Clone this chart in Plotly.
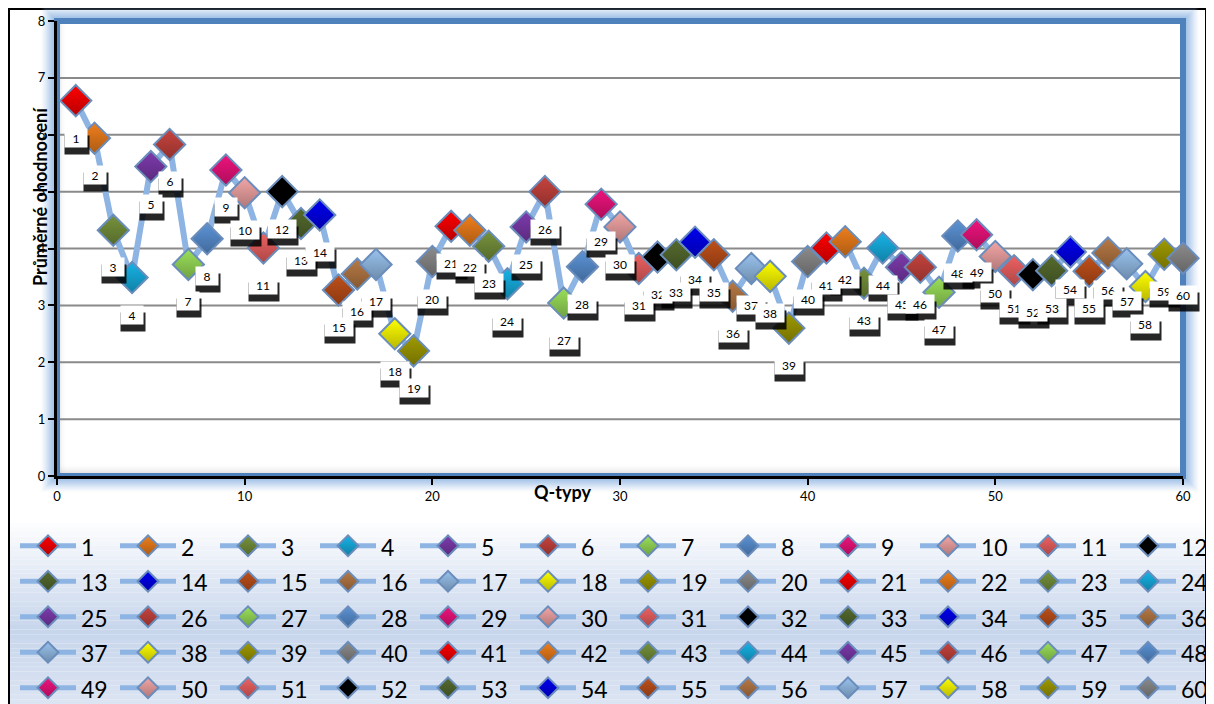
import plotly.graph_objects as go

# ---------------- data ----------------
q_types = list(range(1, 61))
ratings = [6.60, 5.94, 4.32, 3.49, 5.44, 5.83, 3.72, 4.17, 5.38, 4.98,
           4.01, 5.00, 4.44, 4.59, 3.27, 3.55, 3.72, 2.50, 2.20, 3.77,
           4.39, 4.32, 4.04, 3.38, 4.38, 5.00, 3.04, 3.68, 4.78, 4.38,
           3.65, 3.85, 3.89, 4.11, 3.89, 3.16, 3.65, 3.51, 2.60, 3.77,
           4.01, 4.12, 3.39, 4.01, 3.67, 3.67, 3.23, 4.22, 4.24, 3.86,
           3.61, 3.54, 3.61, 3.94, 3.60, 3.92, 3.73, 3.33, 3.90, 3.83]
point_labels = [str(q) for q in q_types]
y_ticks = list(range(0, 9))
x_ticks = list(range(0, 61, 10))
x_title = "Q-typy"
y_title = "Průměrné ohodnocení"

# ---------------- styles ----------------
base_colors = ['#FF0000', '#F07F1C', '#77933C', '#17B3E6', '#7E3BAE',
               '#C8443E', '#9BE05A', '#5B93D6', '#F0137D', '#F4A6A6',
               '#F06262', '#000000', '#566B2E', '#0000F0', '#C0501A',
               '#B87A45', '#99C3EE', '#FFFF00', '#A09B00', '#8C8C8C']
LINE_BLUE = '#8DB4E2'
FONT = 'Lato'

OFF = 8                       # page body margin of the rendered html
W, H = 1214 - OFF, 704 - OFF
# screen-pixel layout targets (converted to figure pixels below)
PL, PR, PT, PB = 57 - OFF, 1183 - OFF, 21 - OFF, 476 - OFF
PAPER_R = 1210 - OFF
MR = W - PAPER_R


def sx(px):
    return (px - OFF - PL) / (PAPER_R - PL)


def sy(py):
    return (PB - (py - OFF)) / (PB - PT)


def darken(hexc, f=0.72):
    h = hexc.lstrip('#')
    r, g, b = (int(h[i:i + 2], 16) for i in (0, 2, 4))
    return 'rgb(%d,%d,%d)' % (r * f, g * f, b * f)


fig = go.Figure()

# connecting line
fig.add_trace(go.Scatter(x=q_types, y=ratings, mode='lines',
                         line=dict(color=LINE_BLUE, width=6),
                         showlegend=False, hoverinfo='skip'))

# one trace per Q-type (legend entries)
for i, (q, v, name) in enumerate(zip(q_types, ratings, point_labels)):
    c = base_colors[i % len(base_colors)]
    fig.add_trace(go.Scatter(
        x=[q], y=[v], mode='lines+markers',
        name="<span style='font-size:23px'>%s</span>" % name,
        line=dict(color=LINE_BLUE, width=5),
        marker=dict(symbol='diamond', size=24, color=c,
                    gradient=dict(type='vertical', color=darken(c)),
                    line=dict(color='#6A8DBC', width=2)),
        cliponaxis=False))

X_RIGHT = sx(1183)
shapes = []
# outer frame
shapes.append(dict(type='rect', xref='paper', yref='paper',
                   x0=sx(9), x1=sx(1206), y0=sy(740), y1=sy(9),
                   line=dict(color='black', width=2), layer='below'))
# legend gradient background
n_b = 40
top, bot = 518, 704
for k in range(n_b):
    y0 = top + (bot - top) * k / n_b
    y1 = top + (bot - top) * (k + 1) / n_b
    t = k / (n_b - 1)
    if t < 0.6:
        s = t / 0.6
    else:
        s = 1 - (t - 0.6) / 0.4 * 0.35
    r = int(255 - (255 - 200) * s)
    g = int(255 - (255 - 214) * s)
    b = int(255 - (255 - 236) * s)
    shapes.append(dict(type='rect', xref='paper', yref='paper',
                       x0=sx(10), x1=sx(1205), y0=sy(y1), y1=sy(y0),
                       fillcolor='rgb(%d,%d,%d)' % (r, g, b),
                       line=dict(width=0), layer='below'))
# glow around plot area
for d in range(3, 17):
    a = 0.55 * (1 - (d - 3) / 14) ** 1.5
    shapes.append(dict(type='rect', xref='paper', yref='paper',
                       x0=sx(57 - d), x1=sx(1183 + d), y0=sy(476 + d), y1=sy(21 - d),
                       line=dict(color='rgba(141,180,226,%.3f)' % a, width=2),
                       layer='below'))
# inner shadows (bottom and left)
for k in range(12):
    a = 0.45 * ((k + 1) / 12) ** 2
    shapes.append(dict(type='rect', xref='paper', yref='paper',
                       x0=0, x1=X_RIGHT, y0=sy(476 - 12 + k + 1), y1=sy(476 - 12 + k),
                       fillcolor='rgba(90,90,90,%.3f)' % (a * 0.6), line=dict(width=0),
                       layer='below'))
for k in range(9):
    a = 0.35 * ((9 - k) / 9) ** 2
    shapes.append(dict(type='rect', xref='paper', yref='paper',
                       x0=sx(57 + k), x1=sx(57 + k + 1), y0=0, y1=1,
                       fillcolor='rgba(90,90,90,%.3f)' % (a * 0.6), line=dict(width=0),
                       layer='below'))
# gridlines
for yv in y_ticks[1:-1]:
    shapes.append(dict(type='line', xref='paper', yref='y', x0=0, x1=X_RIGHT, y0=yv, y1=yv,
                       line=dict(color='#8A8A8A', width=2), layer='below'))
# blue border
shapes.append(dict(type='rect', xref='paper', yref='paper', x0=0, x1=X_RIGHT, y0=0, y1=1,
                   line=dict(color='#4F81BD', width=6), layer='below'))

annotations = []
for q, v, name in zip(q_types, ratings, point_labels):
    w = 22 if len(name) == 1 else 28
    annotations.append(dict(x=q, y=v, xref='x', yref='y', text=' ', showarrow=False,
                            font=dict(family=FONT, size=12, color='black'),
                            bgcolor='rgba(0,0,0,0.85)', width=w + 2, height=18,
                            borderpad=0, xshift=1, yshift=-44))
for q, v, name in zip(q_types, ratings, point_labels):
    w = 22 if len(name) == 1 else 28
    annotations.append(dict(x=q, y=v, xref='x', yref='y', text=name, showarrow=False,
                            font=dict(family=FONT, size=12, color='black'),
                            bgcolor='white', width=w, height=18,
                            borderpad=0, yshift=-37))
annotations.append(dict(x=sx(562), y=sy(505), xref='paper', yref='paper',
                        text='<b>%s</b>' % x_title, showarrow=False,
                        font=dict(family=FONT, size=18, color='black')))
annotations.append(dict(x=sx(27), y=sy(197), xref='paper', yref='paper',
                        text='<b>%s</b>' % y_title, showarrow=False, textangle=-90,
                        font=dict(family=FONT, size=18, color='black')))

fig.update_layout(
    width=W, height=H,
    margin=dict(l=PL, r=MR, t=PT, b=H - PB, pad=0, autoexpand=False),
    paper_bgcolor='white', plot_bgcolor='white',
    font=dict(family=FONT, color='black'),
    xaxis=dict(range=[0, 60], domain=[0, X_RIGHT], tickvals=x_ticks, ticks='outside',
               ticklen=6, tickwidth=2, tickcolor='black', showline=True,
               linecolor='black', linewidth=3, showgrid=False, zeroline=False,
               tickfont=dict(family=FONT, size=13)),
    yaxis=dict(range=[0, 8], tickvals=y_ticks, ticks='outside', ticklen=6,
               tickwidth=2, tickcolor='black', showline=True, linecolor='black',
               linewidth=3, showgrid=False, zeroline=False,
               tickfont=dict(family=FONT, size=13)),
    legend=dict(orientation='h', x=sx(15), xanchor='left', y=sy(523), yanchor='top',
                font=dict(family=FONT, size=25), itemwidth=56,
                entrywidth=29, entrywidthmode='pixels',
                bgcolor='rgba(0,0,0,0)', traceorder='normal'),
    shapes=shapes, annotations=annotations,
)

fig.write_html("out.html")
